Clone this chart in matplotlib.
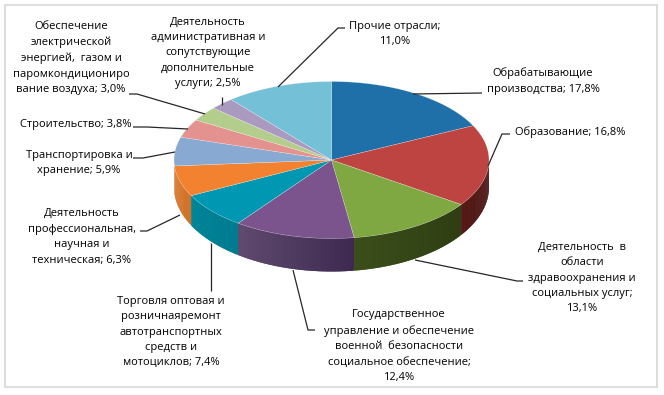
import numpy as np
import matplotlib
matplotlib.use('Agg')
import matplotlib.pyplot as plt
from matplotlib.colors import to_rgb

plt.rcParams['font.family'] = ['Open Sans', 'DejaVu Sans']

values = [17.8, 16.8, 13.1, 12.4, 7.4, 6.3, 5.9, 3.8, 3.0, 2.5, 11.0]
names = [
    'Обрабатывающие\nпроизводства',
    'Образование',
    'Деятельность  в\nобласти\nздравоохранения и\nсоциальных услуг',
    'Государственное\nуправление и обеспечение\nвоенной  безопасности\nсоциальное обеспечение',
    'Торговля оптовая и\nрозничнаяремонт\nавтотранспортных\nсредств и\nмотоциклов',
    'Деятельность\nпрофессиональная,\nнаучная и\nтехническая',
    'Транспортировка и\nхранение',
    'Строительство',
    'Обеспечение\nэлектрической\nэнергией,  газом и\nпаромкондициониро\nвание воздуха',
    'Деятельность\nадминистративная и\nсопутствующие\nдополнительные\nуслуги',
    'Прочие отрасли',
]
# break after the semicolon, as in the picture
seps = [' ', ' ', '\n', '\n', ' ', ' ', ' ', ' ', ' ', ' ', '\n']
top_colors = ['#1F6FA8', '#BE4442', '#7FA843', '#7B548D', '#0097B2', '#F2822F',
              '#88A9D1', '#E3928F', '#B3CE8C', '#AB9ABF', '#74C0D6']
wall_left = [None, '#551A16', '#3A4E1A', '#604A70', '#008598', '#DB7A30',
             None, None, None, None, None]
wall_right = [None, '#461412', '#2E3D12', '#3E2A50', '#007B8E', '#CF7128',
              None, None, None, None, None]
label_xy = [(543, 81), (570, 132), (582, 278), (399, 346), (171, 332), (82, 237),
            (79, 163), (76, 124), (71, 58), (208, 53), (395, 34)]
leaders = [
    [(413, 94), (482, 93)],
    [(488, 166), (502, 134), (510, 134)],
    [(415, 260), (517, 281), (523, 281)],
    [(293, 270), (308, 330), (315, 330)],
    [(211, 243), (211, 291)],
    [(180, 215), (147, 231), (140, 231)],
    [(175, 152), (143, 158), (133, 158)],
    [(188, 129), (147, 127), (133, 127)],
    [(205, 114), (137, 94), (129, 94)],
    [(222, 105), (222, 97)],
    [(278, 87), (338, 28), (345, 28)],
]

cx, cy, rx, ry = 331.5, 160, 157.5, 78.5

fig = plt.figure(figsize=(6.64, 3.95), dpi=100)
ax = fig.add_axes([0, 0, 1, 1])
ax.set_xlim(0, 664)
ax.set_ylim(395, 0)
ax.axis('off')

ax.add_patch(plt.Rectangle((4.5, 4.5), 652, 382.5, fc='white', ec='#DADADA', lw=1.3))


def pt(deg):
    a = np.radians(deg)
    return cx + rx * np.sin(a), cy - ry * np.cos(a)


def wall_depth(deg):
    # a bit shallower at the sides, perspective of the 3d pie
    return 27 + 6 * abs(np.cos(np.radians(deg)))


edges = np.r_[0, np.cumsum(values)] / sum(values) * 360

# side wall, front slices only; each band overlaps the next so no seams show
for i in range(len(values)):
    if wall_left[i] is None:
        continue
    a0, a1 = max(edges[i], 90), edges[i + 1]
    steps = np.linspace(a0, a1, int((a1 - a0) * 2) + 2)
    c_r, c_l = np.array(to_rgb(wall_right[i])), np.array(to_rgb(wall_left[i]))
    for j in range(len(steps) - 1):
        end = steps[min(j + 2, len(steps) - 1)]
        x0, y0 = pt(steps[j])
        x1, y1 = pt(end)
        t = j / max(len(steps) - 2, 1)
        col = c_r * (1 - t) + c_l * t
        ax.fill([x0, x1, x1, x0], [y0, y1, y1 + wall_depth(end), y0 + wall_depth(steps[j])],
                fc=col, ec='none')

# top face
for i in range(len(values)):
    th = np.linspace(edges[i], edges[i + 1], 80)
    xs, ys = pt(th)
    ax.fill(np.r_[cx, xs], np.r_[cy, ys], fc=top_colors[i], ec='#FFFFFF80', lw=0.3)

for line in leaders:
    ax.plot(*zip(*line), color='#262626', lw=0.9, solid_capstyle='butt')

for name, val, sep, (tx, ty) in zip(names, values, seps, label_xy):
    txt = name + ';' + sep + f'{val:.1f}'.replace('.', ',') + '%'
    ax.text(tx, ty, txt, ha='center', va='center', fontsize=8, linespacing=1.56, color='black')

fig.savefig('out.png', dpi=100)
